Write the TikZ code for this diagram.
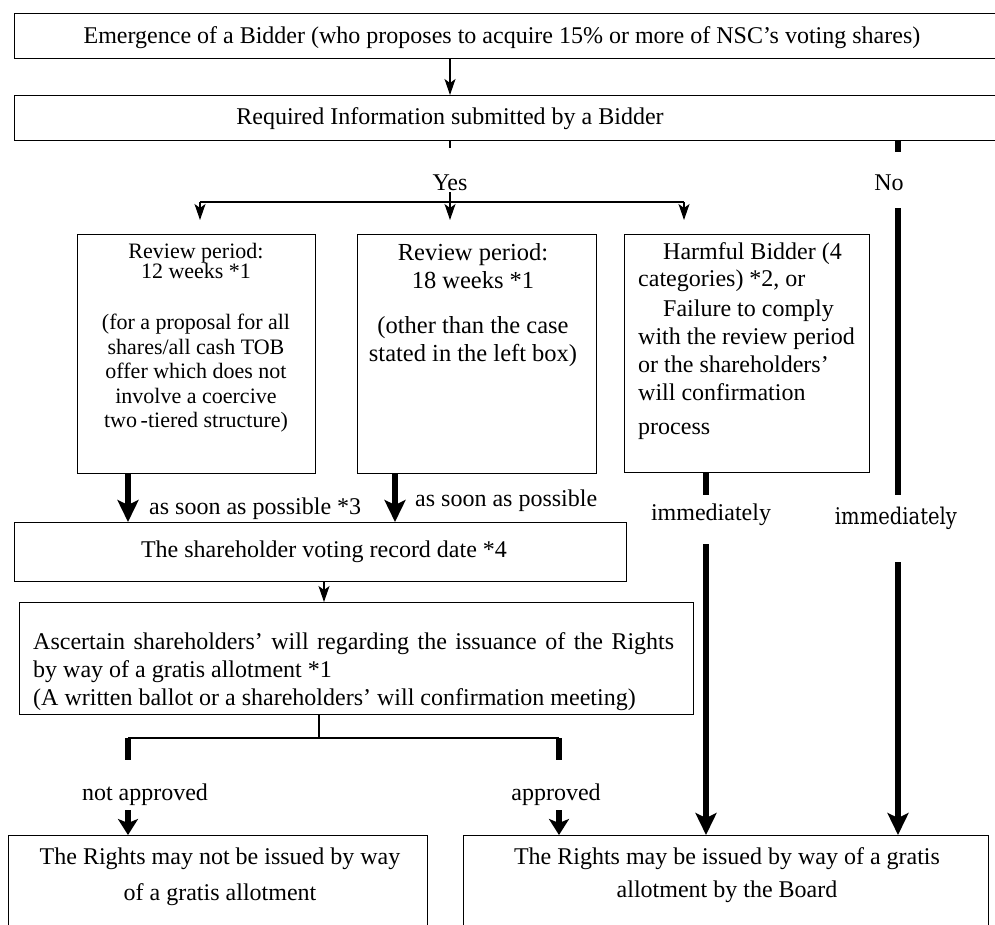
\documentclass[tikz,border=0pt]{standalone}
\usepackage{fontspec}
\setmainfont{Liberation Serif}
\newfontfamily\altserif[FakeStretch=0.85]{DejaVu Serif}
\usetikzlibrary{arrows.meta}
\begin{document}
\begin{tikzpicture}[x=1pt,y=-1pt,
 box/.style={draw,line width=1.3pt,inner sep=0pt,anchor=north west},
 lbl/.style={inner sep=0pt,font=\fontsize{24}{28}\selectfont},
 blk/.style={inner sep=0pt},
 ln/.style={line width=1.2pt},
 lnarr/.style={line width=1.2pt,-{Stealth[length=16pt,width=11pt,inset=4pt]}},
 hv/.style={line width=5.5pt},
 hvarr/.style={line width=5.5pt,-{Stealth[length=22pt,width=21pt,inset=5pt]}},
 hvshort/.style={line width=5.5pt,-{Stealth[length=16pt,width=20pt,inset=4pt]}},
]
\useasboundingbox (0,0) rectangle (995,924);
\fill[white] (0,0) rectangle (995,924);

% boxes
\node[box,minimum width=990pt,minimum height=45pt] (emerg) at (14,13) {};
\node[box,minimum width=990pt,minimum height=45pt] (req) at (14,95) {};
\node[box,minimum width=238pt,minimum height=239pt] (revA) at (77,234) {};
\node[box,minimum width=239pt,minimum height=239pt] (revB) at (357,234) {};
\node[box,minimum width=245pt,minimum height=238pt] (harm) at (624,234) {};
\node[box,minimum width=612pt,minimum height=59pt] (rec) at (14,522) {};
\node[box,minimum width=674pt,minimum height=112pt] (asc) at (19,602) {};
\node[box,minimum width=419pt,minimum height=120pt] (notiss) at (8,835) {};
\node[box,minimum width=525pt,minimum height=120pt] (iss) at (463,835) {};

% texts
\node[lbl,anchor=base] (temerg) at (502,43) {Emergence of a Bidder (who proposes to acquire 15\% or more of NSC’s voting shares)};
\node[lbl,anchor=base] (treq) at (450,124) {Required Information submitted by a Bidder};
\node[lbl,anchor=base] (yes) at (450,190) {Yes};
\node[lbl,anchor=base] (no) at (889,190) {No};
\node[blk,anchor=north,align=center,font=\fontsize{22}{24.5}\selectfont] (trevA) at (196,243.5)
 {Review period:\\[-4.5pt]12 weeks *1\\[26.5pt](for a proposal for all\\shares/all cash TOB\\offer which does not\\involve a coercive\\two\,-tiered structure)};
\node[blk,anchor=north,align=center,font=\fontsize{24.5}{28}\selectfont] (trevB) at (473,242.8)
 {Review period:\\18 weeks *1\\[17pt](other than the case\\stated in the left box)};
\node[blk,anchor=north west,align=left,font=\fontsize{24}{28}\selectfont] (tharm) at (638,242.6)
 {\hspace*{25pt}Harmful Bidder (4\\[-1pt]categories) *2, or\\[2pt]\hspace*{25pt}Failure to comply\\with the review period\\or the shareholders’\\will confirmation\\[6pt]process};
\node[lbl,anchor=base west] (asap1) at (149,514) {as soon as possible *3};
\node[lbl,anchor=base west] (asap2) at (415,506) {as soon as possible};
\node[lbl,anchor=base] (imm1) at (711,520) {immediately};
\node[lbl,anchor=base,font=\altserif\fontsize{23}{26}\selectfont] (imm2) at (896,524) {immediately};
\node[lbl,anchor=base] (trec) at (324,557) {The shareholder voting record date *4};
\node[blk,anchor=north west,align=left,font=\fontsize{24}{28}\selectfont] (tasc) at (33,632.6)
 {\makebox[641pt][s]{Ascertain shareholders’ will regarding the issuance of the Rights}\\by way of a gratis allotment *1\\(A written ballot or a shareholders’ will confirmation meeting)};
\node[lbl,anchor=base] (notap) at (145,800) {not approved};
\node[lbl,anchor=base] (ap) at (556,800) {approved};
\node[blk,anchor=north,align=center,font=\fontsize{24}{36}\selectfont] (tnot) at (220,847.6)
 {The Rights may not be issued by way\\of a gratis allotment};
\node[blk,anchor=north,align=center,font=\fontsize{24}{33}\selectfont] (tiss) at (727,847.6)
 {The Rights may be issued by way of a gratis\\allotment by the Board};

% coordinates
\coordinate (xm) at (450,0);
\coordinate (tick) at (450,148);
\coordinate (yesb) at (450,192);
\coordinate (brM) at (450,202);
\coordinate (brL) at (200,202);
\coordinate (brR) at (684,202);
\coordinate (tipL) at (200,220);
\coordinate (tipM) at (450,220);
\coordinate (tipR) at (684,220);
\coordinate (xr) at (898,0);
\coordinate (noA) at (898,152);
\coordinate (noB) at (898,208);
\coordinate (noC) at (898,495);
\coordinate (noD) at (898,562);
\coordinate (xh) at (706,0);
\coordinate (hA) at (706,495);
\coordinate (hB) at (706,544);
\coordinate (xa) at (128,0);
\coordinate (xb) at (395,0);
\coordinate (xr2) at (324,0);
\coordinate (bM) at (319,738);
\coordinate (bL) at (128,738);
\coordinate (bR) at (559,738);
\coordinate (bLs) at (128,760);
\coordinate (bRs) at (559,760);
\coordinate (aL) at (128,810);
\coordinate (aR) at (559,810);

% connectors
\draw[lnarr] (emerg.south -| xm) -- (req.north -| xm);
\draw[ln] (req.south -| xm) -- (tick);
\draw[ln] (yesb) -- (brM);
\draw[ln] (brL) -- (brR);
\draw[lnarr] (brL) -- (tipL);
\draw[lnarr] (brM) -- (tipM);
\draw[lnarr] (brR) -- (tipR);
\draw[hv] (req.south -| xr) -- (noA);
\draw[hv] (noB) -- (noC);
\draw[hvarr] (noD) -- (iss.north -| xr);
\draw[hv] (harm.south -| xh) -- (hA);
\draw[hvarr] (hB) -- (iss.north -| xh);
\draw[hvarr] (revA.south -| xa) -- (rec.north -| xa);
\draw[hvarr] (revB.south -| xb) -- (rec.north -| xb);
\draw[lnarr] (rec.south -| xr2) -- (asc.north -| xr2);
\draw[ln] (asc.south -| bM) -- (bM);
\draw[ln] (bL) -- (bR);
\draw[hv] (bL) -- (bLs);
\draw[hv] (bR) -- (bRs);
\draw[hvshort] (aL) -- (notiss.north -| aL);
\draw[hvshort] (aR) -- (iss.north -| aR);
\end{tikzpicture}
\end{document}
